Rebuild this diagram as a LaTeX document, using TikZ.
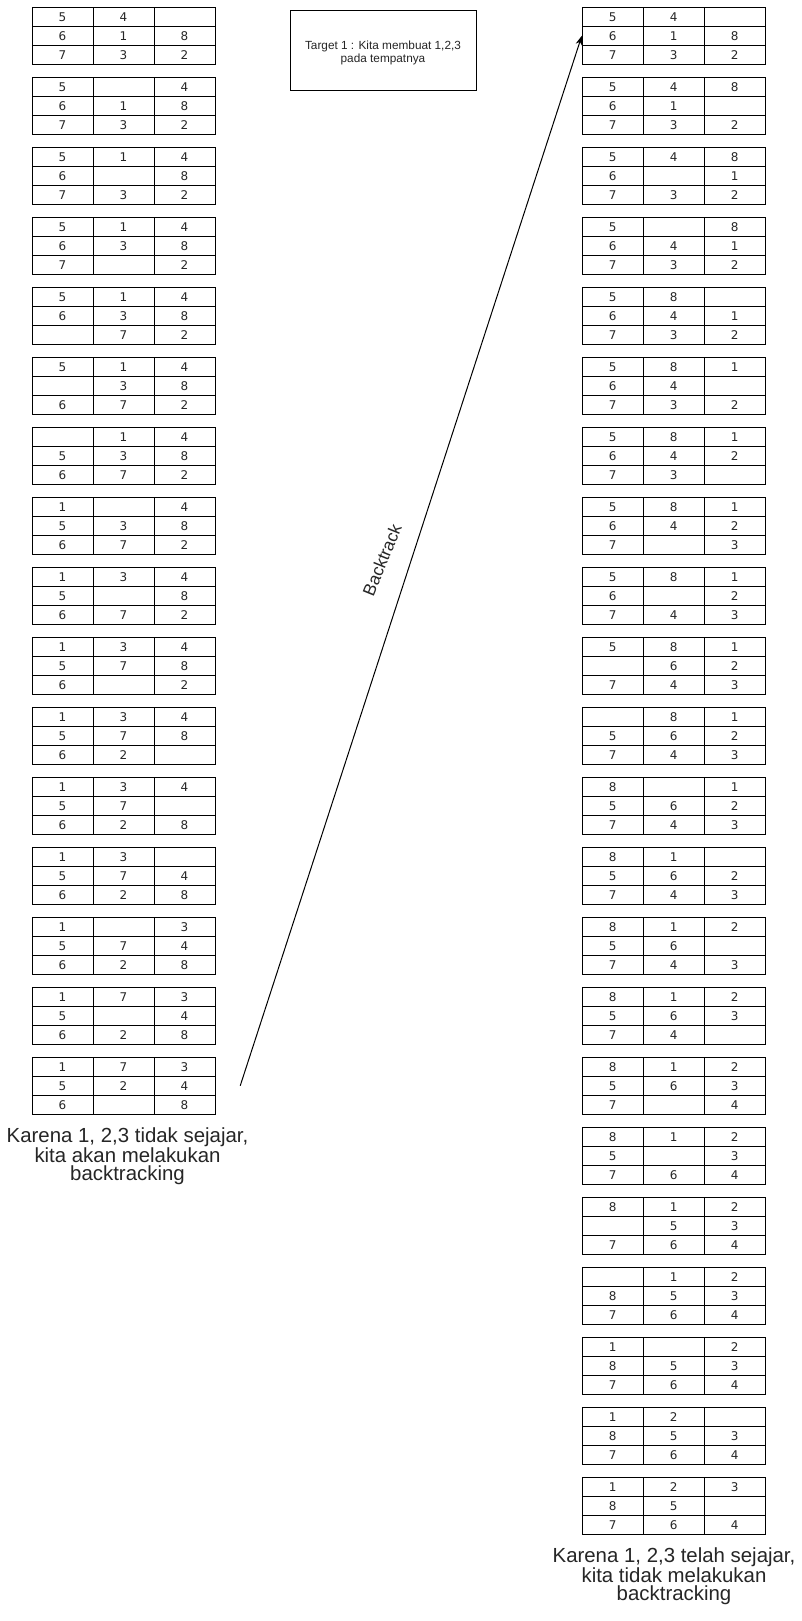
\documentclass[tikz,border=0pt]{standalone}
\usepackage{fontspec}
\setmainfont{Liberation Sans}
\newfontfamily\cellfont{DejaVu Sans}
\usetikzlibrary{arrows.meta}
\tikzset{
  cell/.style={draw, line width=0.75pt, inner sep=0pt, minimum height={19*0.75pt},
    font=\cellfont\fontsize{9}{10}\selectfont, text=black!85},
  notebox/.style={draw, line width=0.75pt, inner sep=0pt, minimum width={186*0.75pt},
    minimum height={80*0.75pt}},
  notetext/.style={align=center, inner sep=0pt, font=\fontsize{8.85}{9.4}\selectfont, text=black!85},
  bigtext/.style={align=center, inner sep=0pt, font=\fontsize{15.3}{13.3}\selectfont, text=black!85},
  edgetext/.style={inner sep=0pt, font=\fontsize{13}{15}\selectfont, text=black!85},
  conn/.style={line width=0.75pt, -{Stealth[length=7pt,width=5pt]}}
}
\newcommand\puzzle[5]{%
  \foreach \v [count=\i from 0] in {#5}{%
    \pgfmathtruncatemacro\colidx{mod(\i,3)}%
    \pgfmathtruncatemacro\rowidx{\i/3}%
    \node[cell, minimum width={#4*0.75pt}] (#1-\i) at ({#2+(\colidx+0.5)*#4},{#3+(\rowidx+0.5)*19}) {\v};
  }%
}
\begin{document}
\begin{tikzpicture}[x=0.75pt,y=-0.75pt]
\fill[white] (0,0) rectangle (801,1621);
\useasboundingbox (0,0) rectangle (801,1621);
% left column
\puzzle{L1}{32}{7.3}{61}{5,4,{},6,1,8,7,3,2}
\puzzle{L2}{32}{77.3}{61}{5,{},4,6,1,8,7,3,2}
\puzzle{L3}{32}{147.3}{61}{5,1,4,6,{},8,7,3,2}
\puzzle{L4}{32}{217.3}{61}{5,1,4,6,3,8,7,{},2}
\puzzle{L5}{32}{287.3}{61}{5,1,4,6,3,8,{},7,2}
\puzzle{L6}{32}{357.3}{61}{5,1,4,{},3,8,6,7,2}
\puzzle{L7}{32}{427.3}{61}{{},1,4,5,3,8,6,7,2}
\puzzle{L8}{32}{497.3}{61}{1,{},4,5,3,8,6,7,2}
\puzzle{L9}{32}{567.3}{61}{1,3,4,5,{},8,6,7,2}
\puzzle{L10}{32}{637.3}{61}{1,3,4,5,7,8,6,{},2}
\puzzle{L11}{32}{707.3}{61}{1,3,4,5,7,8,6,2,{}}
\puzzle{L12}{32}{777.3}{61}{1,3,4,5,7,{},6,2,8}
\puzzle{L13}{32}{847.3}{61}{1,3,{},5,7,4,6,2,8}
\puzzle{L14}{32}{917.3}{61}{1,{},3,5,7,4,6,2,8}
\puzzle{L15}{32}{987.3}{61}{1,7,3,5,{},4,6,2,8}
\puzzle{L16}{32}{1057.3}{61}{1,7,3,5,2,4,6,{},8}
% right column
\puzzle{R1}{582.3}{7.3}{61}{5,4,{},6,1,8,7,3,2}
\puzzle{R2}{582.3}{77.3}{61}{5,4,8,6,1,{},7,3,2}
\puzzle{R3}{582.3}{147.3}{61}{5,4,8,6,{},1,7,3,2}
\puzzle{R4}{582.3}{217.3}{61}{5,{},8,6,4,1,7,3,2}
\puzzle{R5}{582.3}{287.3}{61}{5,8,{},6,4,1,7,3,2}
\puzzle{R6}{582.3}{357.3}{61}{5,8,1,6,4,{},7,3,2}
\puzzle{R7}{582.3}{427.3}{61}{5,8,1,6,4,2,7,3,{}}
\puzzle{R8}{582.3}{497.3}{61}{5,8,1,6,4,2,7,{},3}
\puzzle{R9}{582.3}{567.3}{61}{5,8,1,6,{},2,7,4,3}
\puzzle{R10}{582.3}{637.3}{61}{5,8,1,{},6,2,7,4,3}
\puzzle{R11}{582.3}{707.3}{61}{{},8,1,5,6,2,7,4,3}
\puzzle{R12}{582.3}{777.3}{61}{8,{},1,5,6,2,7,4,3}
\puzzle{R13}{582.3}{847.3}{61}{8,1,{},5,6,2,7,4,3}
\puzzle{R14}{582.3}{917.3}{61}{8,1,2,5,6,{},7,4,3}
\puzzle{R15}{582.3}{987.3}{61}{8,1,2,5,6,3,7,4,{}}
\puzzle{R16}{582.3}{1057.3}{61}{8,1,2,5,6,3,7,{},4}
\puzzle{R17}{582.3}{1127.3}{61}{8,1,2,5,{},3,7,6,4}
\puzzle{R18}{582.3}{1197.3}{61}{8,1,2,{},5,3,7,6,4}
\puzzle{R19}{582.3}{1267.3}{61}{{},1,2,8,5,3,7,6,4}
\puzzle{R20}{582.3}{1337.3}{61}{1,{},2,8,5,3,7,6,4}
\puzzle{R21}{582.3}{1407.3}{61}{1,2,{},8,5,3,7,6,4}
\puzzle{R22}{582.3}{1477.3}{61}{1,2,3,8,5,{},7,6,4}
% target note
\node[notebox] (target) at (383,50.5) {};
\node[notetext] (targettext) at (383,53) {Target 1 : Kita membuat 1,2,3\\pada tempatnya};
% bottom labels
\node[bigtext] (leftlabel) at (127.5,1156) {Karena 1, 2,3 tidak sejajar,\\kita akan melakukan\\backtracking};
\node[bigtext] (rightlabel) at (674,1576) {Karena 1, 2,3 telah sejajar,\\kita tidak melakukan\\backtracking};
% backtrack arrow
\coordinate (btstart) at ([xshift={24.7*0.75pt}]L16-5.east);
\draw[conn] (btstart) -- (R1-3.west);
\node[edgetext, rotate=68] (btlabel) at (382,560) {Backtrack};
\end{tikzpicture}
\end{document}
